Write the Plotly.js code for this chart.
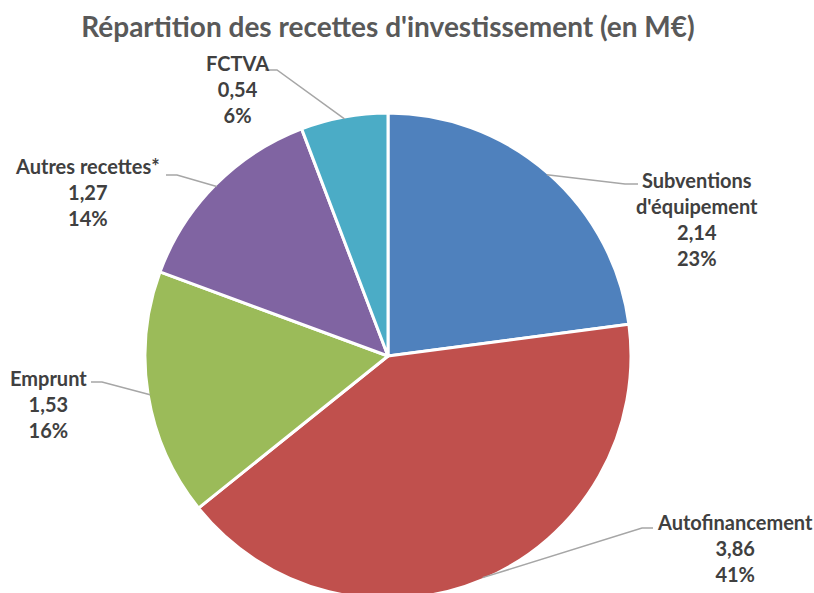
<!DOCTYPE html>
<html>
<head>
<meta charset="utf-8">
<script src="https://cdn.plot.ly/plotly-3.0.1.min.js"></script>
<style>
html,body{margin:0;padding:0;overflow:hidden;background:#fff;}
#chart{width:814px;height:600px;}
</style>
</head>
<body>
<div id="chart"></div>
<script>
// ---- data ----
const categories = ["Subventions d'équipement", "Autofinancement", "Emprunt", "Autres recettes*", "FCTVA"];
const displayNames = ["Subventions<br>d'équipement", "Autofinancement", "Emprunt", "Autres recettes*", "FCTVA"];
const values = [2.14, 3.86, 1.53, 1.27, 0.54];
const colors = ["#4F81BD", "#C0504D", "#9BBB59", "#8064A2", "#4BACC6"];

// ---- layout constants (pixels) ----
const W = 814, H = 600;
const M = {l: 145, r: 183, t: 113, b: 1};
const PW = W - M.l - M.r, PH = H - M.t - M.b;
const CX = M.l + PW / 2, CY = M.t + PH / 2, R = Math.min(PW, PH) / 2 - 2;
// label text centres and leader elbows (pixels)
const labelPos = [[697, 219], [735, 548], [48, 404], [87, 192], [237, 89]];
const elbowNear = [[638, 184], [653, 528], [91, 382], [166, 175], [265, 70]];
const elbowFar = [[625, 184], [642, 528], [102, 382], [177, 175], [277, 70]];

const px2x = p => (p - M.l) / PW;
const px2y = p => 1 - (p - M.t) / PH;

const total = values.reduce((a, b) => a + b, 0);
const annotations = [], shapes = [];
let cum = 0;
values.forEach((v, i) => {
  const mid = (cum + v / 2) / total * 2 * Math.PI;
  cum += v;
  const ex = CX + R * Math.sin(mid), ey = CY - R * Math.cos(mid);
  const pct = Math.round(v / total * 100) + '%';
  const valTxt = v.toFixed(2).replace('.', ',');
  annotations.push({
    xref: 'paper', yref: 'paper',
    x: px2x(labelPos[i][0]), y: px2y(labelPos[i][1]),
    xanchor: 'center', yanchor: 'middle', align: 'center',
    showarrow: false,
    text: '<b>' + displayNames[i] + '<br>' + valTxt + '<br>' + pct + '</b>',
    font: {family: 'Lato, sans-serif', size: 20, color: '#404040'}
  });
  const p = `M ${px2x(elbowNear[i][0])} ${px2y(elbowNear[i][1])} L ${px2x(elbowFar[i][0])} ${px2y(elbowFar[i][1])} L ${px2x(ex)} ${px2y(ey)}`;
  shapes.push({type: 'path', xref: 'paper', yref: 'paper', path: p,
    line: {color: '#A6A6A6', width: 1.5}});
});

const trace = {
  type: 'pie',
  labels: categories,
  values: values,
  sort: false,
  direction: 'clockwise',
  rotation: 0,
  textinfo: 'none',
  hoverinfo: 'label+value+percent',
  marker: {colors: colors, line: {color: '#FFFFFF', width: 3}},
  domain: {x: [0, 1], y: [0, 1]}
};

const layout = {
  width: W, height: H,
  margin: M,
  showlegend: false,
  paper_bgcolor: '#FFFFFF',
  title: {
    text: "<b>Répartition des recettes d'investissement (en M€)</b>",
    font: {family: 'Lato, sans-serif', size: 28, color: '#595959'},
    x: 388 / W, xanchor: 'center', y: 1 - 27 / H, yanchor: 'middle'
  },
  annotations: annotations,
  shapes: shapes
};

Plotly.newPlot('chart', [trace], layout, {displayModeBar: false, staticPlot: true});
</script>
</body>
</html>
